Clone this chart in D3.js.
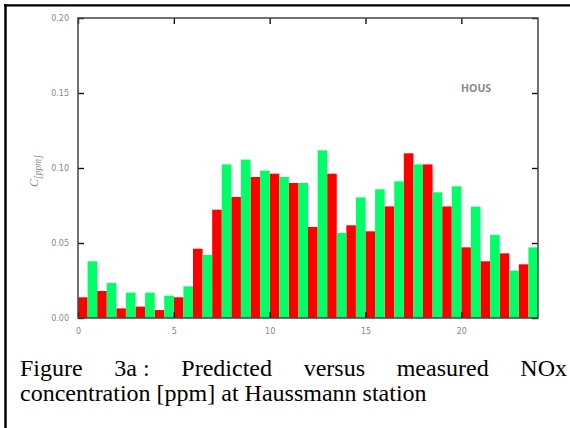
<!DOCTYPE html>
<html>
<head>
<meta charset="utf-8">
<script src="https://cdn.jsdelivr.net/npm/d3@7"></script>
<style>
  html, body { margin: 0; padding: 0; background: #fff; }
  svg { display: block; }
</style>
</head>
<body>
<svg id="chart" width="570" height="428"></svg>
<script>
// ---- data ----
const hours = d3.range(0, 24);
const redSeries = [0.0138, 0.0180, 0.0064, 0.0076, 0.0053, 0.0138, 0.0462, 0.0722, 0.0807, 0.0940, 0.0962, 0.0900,
                   0.0607, 0.0962, 0.0618, 0.0578, 0.0744, 0.1098, 0.1024, 0.0744, 0.0471, 0.0378, 0.0431, 0.0358];
const greenSeries = [0.0378, 0.0233, 0.0169, 0.0169, 0.0149, 0.0211, 0.0420, 0.1024, 0.1056, 0.0982, 0.0940, 0.0900,
                     0.1118, 0.0567, 0.0804, 0.0858, 0.0911, 0.1024, 0.0838, 0.0878, 0.0742, 0.0553, 0.0316, 0.0471];
const xTicks = [0, 5, 10, 15, 20];
const yTicks = [0, 0.05, 0.10, 0.15, 0.20];
const stationLabel = "HOUS";
const captionLine1 = ["Figure", "3a :", "Predicted", "versus", "measured", "NOx"];
const captionLine2 = "concentration [ppm] at Haussmann station";

// ---- layout ----
const svg = d3.select("#chart");
const plot = { left: 78, right: 538, top: 18, bottom: 318 };

const x = d3.scaleLinear().domain([0, 24]).range([plot.left, plot.right]);
const y = d3.scaleLinear().domain([0, 0.20]).range([plot.bottom, plot.top]);

// outer frame (left and top rules)
svg.append("line").attr("x1", 5.5).attr("x2", 5.5).attr("y1", 4).attr("y2", 428)
  .attr("stroke", "#000").attr("stroke-width", 2.5);
svg.append("line").attr("x1", 4).attr("x2", 570).attr("y1", 5.3).attr("y2", 5.3)
  .attr("stroke", "#000").attr("stroke-width", 2.2);

// bars
const g = svg.append("g");
g.selectAll("rect.red").data(hours).join("rect")
  .attr("class", "red")
  .attr("x", d => x(d))
  .attr("width", d => x(d + 0.5) - x(d))
  .attr("y", d => y(redSeries[d]))
  .attr("height", d => y(0) - y(redSeries[d]))
  .attr("fill", "#ff0000");
g.selectAll("rect.green").data(hours).join("rect")
  .attr("class", "green")
  .attr("x", d => x(d + 0.5))
  .attr("width", d => x(d + 1) - x(d + 0.5))
  .attr("y", d => y(greenSeries[d]))
  .attr("height", d => y(0) - y(greenSeries[d]))
  .attr("fill", "#00ff66");

// axes (inward ticks on all four sides)
const tickLen = 6;
const axBottom = d3.axisBottom(x).tickValues(xTicks).tickSize(-tickLen).tickPadding(tickLen + 4).tickFormat(d3.format("d"));
const axTop = d3.axisTop(x).tickValues(xTicks).tickSize(-tickLen).tickFormat("");
const axLeft = d3.axisLeft(y).tickValues(yTicks).tickSize(-tickLen).tickPadding(tickLen + 3).tickFormat(d3.format(".2f"));
const axRight = d3.axisRight(y).tickValues(yTicks).tickSize(-tickLen).tickFormat("");

function styleAxis(sel) {
  sel.select(".domain").remove();
  sel.selectAll(".tick line").attr("stroke", "#111").attr("stroke-width", 1.4);
  sel.selectAll(".tick text").attr("fill", "#888").attr("font-size", "8px")
    .attr("font-family", "DejaVu Sans, sans-serif");
}
svg.append("g").attr("transform", `translate(0,${plot.bottom})`).call(axBottom).call(styleAxis);
svg.append("g").attr("transform", `translate(0,${plot.top})`).call(axTop).call(styleAxis);
svg.append("g").attr("transform", `translate(${plot.left},0)`).call(axLeft).call(styleAxis);
svg.append("g").attr("transform", `translate(${plot.right},0)`).call(axRight).call(styleAxis);

// plot frame
svg.append("rect")
  .attr("x", plot.left).attr("y", plot.top)
  .attr("width", plot.right - plot.left).attr("height", plot.bottom - plot.top)
  .attr("fill", "none").attr("stroke", "#444").attr("stroke-width", 1.5);

// y label
const yl = svg.append("text")
  .attr("transform", "translate(38,171) rotate(-90)")
  .attr("text-anchor", "middle")
  .attr("fill", "#888")
  .attr("font-family", "Liberation Serif, serif")
  .attr("font-size", "12px");
yl.append("tspan").attr("font-style", "italic").text("C");
yl.append("tspan").attr("font-size", "9.5px").attr("font-style", "italic").attr("dy", 2.5).text("[ppm]");

// station label
svg.append("text")
  .attr("x", 461).attr("y", 92)
  .attr("fill", "#888")
  .attr("font-family", "Open Sans, sans-serif")
  .attr("font-weight", "bold")
  .attr("font-size", "10.5px")
  .text(stationLabel);

// caption (justified first line)
const capFont = "Liberation Serif, Times New Roman, serif";
const capSize = "24px";
const capLeft = 20, capRight = 567;
const words = svg.append("g").selectAll("text").data(captionLine1).join("text")
  .attr("y", 376)
  .attr("font-family", capFont).attr("font-size", capSize).attr("fill", "#000")
  .text(d => d);
const widths = [];
words.each(function () { widths.push(this.getComputedTextLength()); });
const gap = (capRight - capLeft - d3.sum(widths)) / (captionLine1.length - 1);
let cx = capLeft;
words.each(function (d, i) { d3.select(this).attr("x", cx); cx += widths[i] + gap; });

svg.append("text")
  .attr("x", capLeft).attr("y", 401)
  .attr("font-family", capFont).attr("font-size", capSize).attr("fill", "#000")
  .text(captionLine2);
</script>
</body>
</html>
